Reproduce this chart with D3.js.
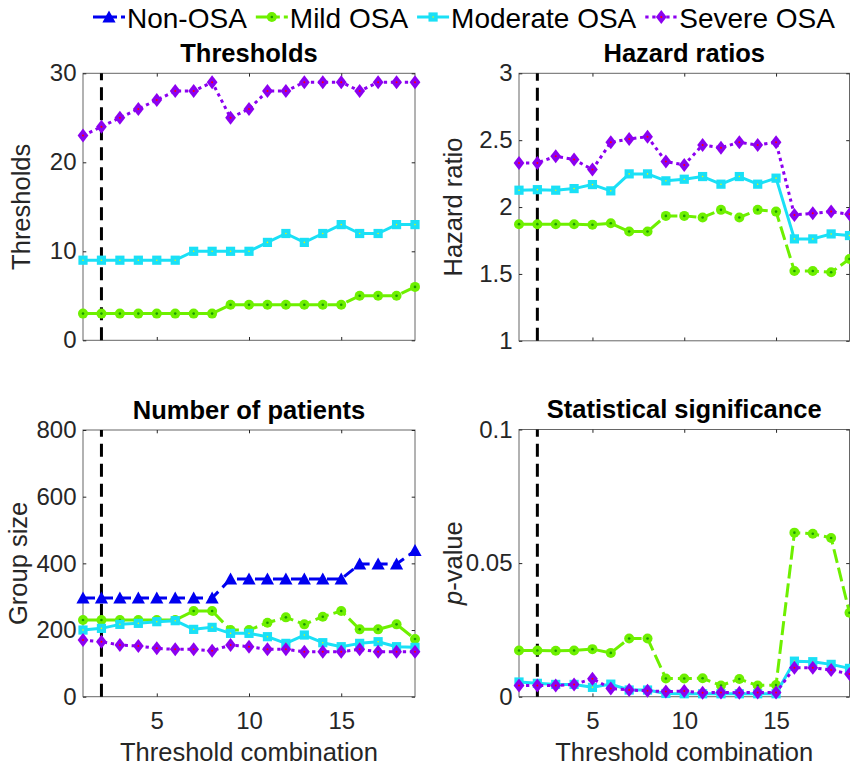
<!DOCTYPE html>
<html>
<head>
<meta charset="utf-8">
<script src="https://cdn.jsdelivr.net/npm/d3@7"></script>
<style>
  body { margin: 0; background: #fff; }
  svg { display: block; font-family: 'Liberation Sans', Arial, Helvetica, sans-serif; }
</style>
</head>
<body>
<svg id="chart" width="850" height="769"></svg>
<script>
// Threshold combinations on the x axis
const combos = [1,2,3,4,5,6,7,8,9,10,11,12,13,14,15,16,17,18,19];
const chosenCombo = 2;
const xTicks = [5, 10, 15];

const groupNames = ["Non-OSA", "Mild OSA", "Moderate OSA", "Severe OSA"];

// Group thresholds (events/h)
const thrMild     = [3,3,3,3,3,3,3,3,4,4,4,4,4,4,4,5,5,5,6];
const thrModerate = [9,9,9,9,9,9,10,10,10,10,11,12,11,12,13,12,12,13,13];
const thrSevere   = [23,24,25,26,27,28,28,29,25,26,28,28,29,29,29,28,29,29,29];

// Hazard ratios vs. Non-OSA
const hrMild     = [1.872,1.872,1.872,1.872,1.868,1.879,1.817,1.817,1.934,1.934,1.922,1.979,1.922,1.979,1.966,1.522,1.522,1.512,1.612];
const hrModerate = [2.126,2.130,2.126,2.138,2.168,2.121,2.248,2.248,2.196,2.208,2.228,2.171,2.228,2.171,2.216,1.762,1.762,1.799,1.787];
const hrSevere   = [2.330,2.330,2.380,2.355,2.280,2.484,2.509,2.526,2.340,2.315,2.464,2.444,2.484,2.464,2.484,1.941,1.953,1.966,1.946];

// Group sizes
const nNon      = [296,296,296,296,296,296,296,296,353,353,353,353,353,353,353,398,398,398,438];
const nMild     = [230,230,230,230,230,230,257,257,200,200,222,238,217,240,257,202,202,217,173];
const nModerate = [200,205,217,220,225,228,202,208,190,190,180,160,185,162,150,160,165,150,148];
const nSevere   = [170,165,155,152,145,142,142,138,155,150,142,142,135,135,135,142,135,135,135];

// p-values
const pMild     = [0.0173,0.0173,0.0172,0.0173,0.0178,0.0164,0.0218,0.0218,0.0068,0.0068,0.0069,0.0042,0.0066,0.0042,0.0044,0.0614,0.0610,0.0594,0.0314];
const pModerate = [0.0055,0.0050,0.0046,0.0046,0.0035,0.0047,0.0025,0.0025,0.0012,0.0011,0.0011,0.0011,0.0011,0.0011,0.0011,0.0133,0.0131,0.0121,0.0106];
const pSevere   = [0.0042,0.0042,0.0042,0.0046,0.0067,0.0031,0.0025,0.0022,0.0019,0.0021,0.0015,0.0016,0.0015,0.0016,0.0016,0.0108,0.0108,0.0100,0.0085];

// Visual style of each group
const styles = {
  "Non-OSA":      { color: "#0000f0", dash: "12,6",    marker: "triangle", legendDash: "24,4,8" },
  "Mild OSA":     { color: "#6ef000", dash: "14,5",    marker: "circle",   legendDash: "24,4,8" },
  "Moderate OSA": { color: "#1ae0f6", dash: null,      marker: "square",   legendDash: null },
  "Severe OSA":   { color: "#8c00f0", dash: "3.3,3.7", marker: "diamond",  legendDash: "3.3,3.7" }
};

const panels = [
  { title: "Thresholds", ylabel: "Thresholds", domain: [0, 30], ticks: [0, 10, 20, 30],
    fmt: d3.format("d"), left: 83, top: 73.3, width: 332, height: 267, xLabels: false, ylabX: 30,
    series: [["Mild OSA", thrMild], ["Moderate OSA", thrModerate], ["Severe OSA", thrSevere]] },
  { title: "Hazard ratios", ylabel: "Hazard ratio", domain: [1, 3], ticks: [1, 1.5, 2, 2.5, 3],
    fmt: d => String(d), left: 519, top: 73.3, width: 330.5, height: 267.5, xLabels: false, ylabX: 462,
    series: [["Mild OSA", hrMild], ["Moderate OSA", hrModerate], ["Severe OSA", hrSevere]] },
  { title: "Number of patients", ylabel: "Group size", domain: [0, 800], ticks: [0, 200, 400, 600, 800],
    fmt: d3.format("d"), left: 83, top: 430, width: 332, height: 266.7, xLabels: true, ylabX: 27,
    series: [["Non-OSA", nNon], ["Mild OSA", nMild], ["Moderate OSA", nModerate], ["Severe OSA", nSevere]] },
  { title: "Statistical significance", ylabel: "p-value", domain: [0, 0.1], ticks: [0, 0.05, 0.1],
    fmt: d => String(d), left: 519, top: 429.5, width: 330.5, height: 267.2, xLabels: true, ylabX: 462,
    series: [["Mild OSA", pMild], ["Moderate OSA", pModerate], ["Severe OSA", pSevere]] }
];

const svg = d3.select("#chart");
const TICK_FONT = 24, LABEL_FONT = 25.5, TITLE_FONT = 25.5, LEGEND_FONT = 28;
const AXIS_COLOR = "#262626", BOX_COLOR = "#666666";

function drawMarker(g, kind, color, cx, cy) {
  const m = g.append("g").attr("transform", `translate(${cx},${cy})`);
  if (kind === "triangle") {
    m.append("path").attr("d", "M0,-6.6L6.6,5.4L-6.6,5.4Z").attr("fill", color);
  } else if (kind === "circle") {
    m.append("circle").attr("r", 5).attr("fill", color);
    m.append("circle").attr("r", 1.3).attr("fill", "#1c9a00");
  } else if (kind === "square") {
    m.append("rect").attr("x", -4.6).attr("y", -4.6).attr("width", 9.2).attr("height", 9.2).attr("fill", color);
    m.append("circle").attr("r", 0.8).attr("fill", "#f5f500");
  } else if (kind === "diamond") {
    m.append("path").attr("d", "M0,-7L5.4,0L0,7L-5.4,0Z").attr("fill", color);
    m.append("circle").attr("r", 1).attr("fill", "#ff0000");
  }
}

panels.forEach(p => {
  const g = svg.append("g");
  const x = d3.scaleLinear().domain([1, 19]).range([p.left, p.left + p.width]);
  const y = d3.scaleLinear().domain(p.domain).range([p.top + p.height, p.top]);
  const bottom = p.top + p.height, right = p.left + p.width;

  // frame
  g.append("rect").attr("x", p.left).attr("y", p.top).attr("width", p.width).attr("height", p.height)
    .attr("fill", "none").attr("stroke", BOX_COLOR).attr("stroke-width", 1);

  // x axis (bottom, with labels only on the lower row) and mirrored top ticks
  const xb = g.append("g").attr("transform", `translate(0,${bottom})`)
    .call(d3.axisBottom(x).tickValues(xTicks).tickSizeInner(-3.3).tickSizeOuter(0).tickPadding(15.5)
      .tickFormat(p.xLabels ? d3.format("d") : () => ""));
  const xt = g.append("g").attr("transform", `translate(0,${p.top})`)
    .call(d3.axisTop(x).tickValues(xTicks).tickSizeInner(-3.3).tickSizeOuter(0).tickFormat(() => ""));

  // y axis (left with labels) and mirrored right ticks
  const yl = g.append("g").attr("transform", `translate(${p.left},0)`)
    .call(d3.axisLeft(y).tickValues(p.ticks).tickSizeInner(-3.3).tickSizeOuter(0).tickPadding(6.5).tickFormat(p.fmt));
  const yr = g.append("g").attr("transform", `translate(${right},0)`)
    .call(d3.axisRight(y).tickValues(p.ticks).tickSizeInner(-3.3).tickSizeOuter(0).tickFormat(() => ""));

  [xb, xt, yl, yr].forEach(a => {
    a.select(".domain").remove();
    a.selectAll(".tick line").attr("stroke", AXIS_COLOR).attr("stroke-width", 1);
    a.selectAll(".tick text").attr("fill", AXIS_COLOR).style("font-size", TICK_FONT + "px")
      .style("font-family", "'Liberation Sans', Arial, Helvetica, sans-serif");
  });

  // title
  g.append("text").attr("x", (p.left + right) / 2).attr("y", p.top - 11.5)
    .attr("text-anchor", "middle").attr("font-weight", "bold").attr("font-size", TITLE_FONT)
    .attr("fill", "#000").text(p.title);

  // y label
  const yt = g.append("text")
    .attr("transform", `translate(${p.ylabX},${(p.top + bottom) / 2}) rotate(-90)`)
    .attr("text-anchor", "middle").attr("font-size", LABEL_FONT).attr("fill", AXIS_COLOR);
  if (p.ylabel === "p-value") {
    yt.append("tspan").attr("font-style", "italic").text("p");
    yt.append("tspan").text("-value");
  } else {
    yt.text(p.ylabel);
  }

  // x label
  if (p.xLabels) {
    g.append("text").attr("x", (p.left + right) / 2).attr("y", 761)
      .attr("text-anchor", "middle").attr("font-size", LABEL_FONT).attr("fill", AXIS_COLOR)
      .text("Threshold combination");
  }

  // selected combination marker
  g.append("line").attr("x1", x(chosenCombo)).attr("x2", x(chosenCombo))
    .attr("y1", bottom).attr("y2", p.top)
    .attr("stroke", "#000").attr("stroke-width", 3).attr("stroke-dasharray", "13,7");

  // series
  p.series.forEach(([name, vals]) => {
    const st = styles[name];
    const line = d3.line().x((d, i) => x(combos[i])).y(d => y(d));
    g.append("path").datum(vals).attr("d", line)
      .attr("fill", "none").attr("stroke", st.color).attr("stroke-width", 3)
      .attr("stroke-linejoin", "round")
      .attr("stroke-dasharray", st.dash);
    vals.forEach((v, i) => drawMarker(g, st.marker, st.color, x(combos[i]), y(v)));
  });
});

// legend across the top
const legend = svg.append("g");
let lx = 93;
groupNames.forEach(name => {
  const st = styles[name];
  const ly = 17;
  legend.append("line").attr("x1", lx).attr("x2", lx + 32).attr("y1", ly).attr("y2", ly)
    .attr("stroke", st.color).attr("stroke-width", 3).attr("stroke-dasharray", st.legendDash);
  drawMarker(legend, st.marker, st.color, lx + 16, ly);
  const t = legend.append("text").attr("x", lx + 34).attr("y", 27.5)
    .attr("font-size", LEGEND_FONT).attr("fill", "#000").text(name);
  lx += 34 + t.node().getComputedTextLength() + 9;
});
</script>
</body>
</html>
